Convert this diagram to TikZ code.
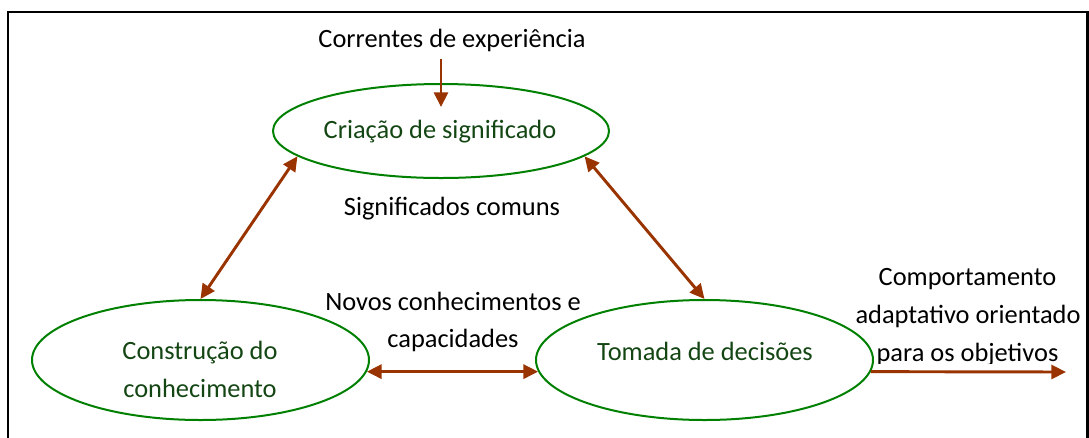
\documentclass[tikz,border=0pt]{standalone}
\usepackage{fontspec}
\setmainfont{Carlito}
\usetikzlibrary{shapes.geometric,arrows.meta}
\definecolor{ellgreen}{RGB}{0,128,0}
\definecolor{txtgreen}{RGB}{20,70,20}
\definecolor{arrbrown}{RGB}{153,51,0}
\tikzset{
  ell/.style={ellipse,draw=ellgreen,line width=1.5pt,inner sep=0pt},
  elltext/.style={anchor=base,text=txtgreen,font=\fontsize{19.8pt}{28.5pt}\selectfont,inner sep=0pt,align=center},
  lbl/.style={anchor=base,text=black,font=\fontsize{19.8pt}{28.5pt}\selectfont,inner sep=0pt,align=center},
  arr/.style={draw=arrbrown,line width=2.2pt,-{Triangle[length=11pt,width=10.5pt]}},
  darr/.style={draw=arrbrown,line width=2.2pt,{Triangle[length=11pt,width=10.5pt]}-{Triangle[length=11pt,width=10.5pt]}}
}
\begin{document}
\begin{tikzpicture}[x=0.75pt,y=-0.75pt]
\useasboundingbox (0,0) rectangle (1089,437);
% frame
\draw[line width=1.6pt,black] (8,440) -- (8,12) -- (1087.5,12) -- (1087.5,440);
% ellipses
\node[ell,minimum width=252pt,minimum height=70.5pt] (cs) at (441,131) {};
\node[ell,minimum width=252.75pt,minimum height=90pt] (cc) at (200.5,360) {};
\node[ell,minimum width=252.75pt,minimum height=90pt] (td) at (704.5,360) {};
% ellipse texts
\node[elltext] (cs-t) at (440,138) {Criação de significado};
\node[elltext] (cc-t1) at (200,359) {Construção do};
\node[elltext] (cc-t2) at (200,397) {conhecimento};
\node[elltext] (td-t) at (705,360) {Tomada de decisões};
% labels
\node[lbl] (corr) at (452,47) {Correntes de experiência};
\node[lbl] (sig) at (452,215) {Significados comuns};
\node[lbl] (nov1) at (453,310) {Novos conhecimentos e};
\node[lbl] (nov2) at (453,347) {capacidades};
\node[lbl] (comp1) at (967.5,285) {Comportamento};
\node[lbl] (comp2) at (968,323) {adaptativo orientado};
\begin{scope}
\clip (860,300) rectangle (1080,363);
\node[lbl] (comp3) at (967.5,361) {para os objetivos};
\end{scope}
% connectors
\coordinate (src) at (441,59);
\coordinate (tgt) at (441,107);
\coordinate (out) at (1066,372);
\draw[arr] (src) -- (tgt);
\draw[darr] (cs.190) -- (cc.north);
\draw[darr] (cs.-10) -- (td.north);
\draw[darr] (cc.-4) -- (td.184);
\draw[arr] (td.-4) -- (out);
\end{tikzpicture}
\end{document}
